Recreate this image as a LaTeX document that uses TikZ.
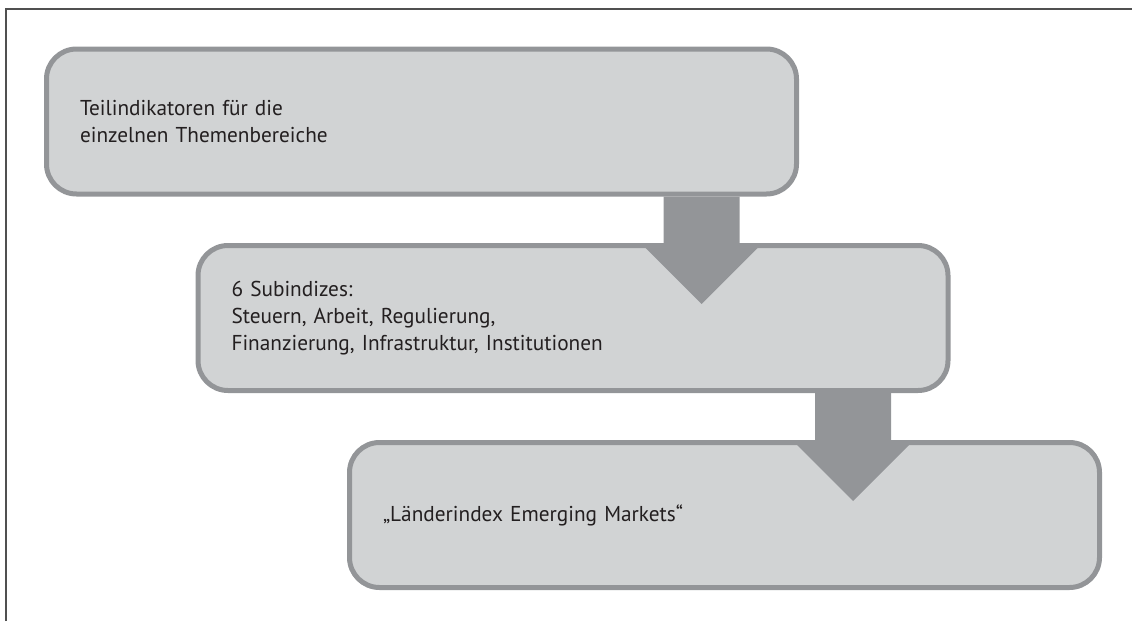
\documentclass[tikz,border=0pt]{standalone}
\usepackage{fontspec}
\setmainfont{PT Sans}[FakeStretch=0.99]
\usetikzlibrary{calc}

\definecolor{boxfill}{RGB}{209,211,212}
\definecolor{boxline}{RGB}{147,149,152}
\definecolor{textdark}{RGB}{35,31,32}
\definecolor{framedark}{RGB}{80,80,80}

\tikzset{
  stagebox/.style={draw=boxline, fill=boxfill, line width=5pt, rounded corners=30pt,
    minimum width=750pt, minimum height=145pt, text width=683pt, align=left,
    inner xsep=33.5pt, text=textdark, font=\fontsize{21.5pt}{27pt}\selectfont},
  flowarrow/.style={fill=boxline}
}

\begin{document}
\begin{tikzpicture}[x=1pt, y=-1pt]
  \useasboundingbox (0,0) rectangle (1132,621);
  \draw[framedark, line width=2pt] (6,621) -- (6,8.5) -- (1132,8.5);

  \node[stagebox] (teil) at (421.5,121.5) {Teilindikatoren für die\\einzelnen Themenbereiche};
  \node[stagebox] (sub) at (573,318) {6 Subindizes:\\Steuern, Arbeit, Regulierung,\\Finanzierung, Infrastruktur, Institutionen};
  \node[stagebox] (index) at (724.5,515) {„Länderindex Emerging Markets“};

  % Pfeile zwischen den Stufen
  \foreach \a/\b in {teil/sub, sub/index}{
    \coordinate (s) at ($(\a.south)+(280,0)$);
    \coordinate (h) at ($(s |- \b.north)+(0,4)$);
    \fill[flowarrow] ($(s)+(-38,0)$) -- ($(s)+(38,0)$) -- ($(h)+(38,0)$) -- ($(h)+(57,0)$)
      -- ($(h)+(0,57)$) -- ($(h)+(-57,0)$) -- ($(h)+(-38,0)$) -- cycle;
  }
\end{tikzpicture}
\end{document}
